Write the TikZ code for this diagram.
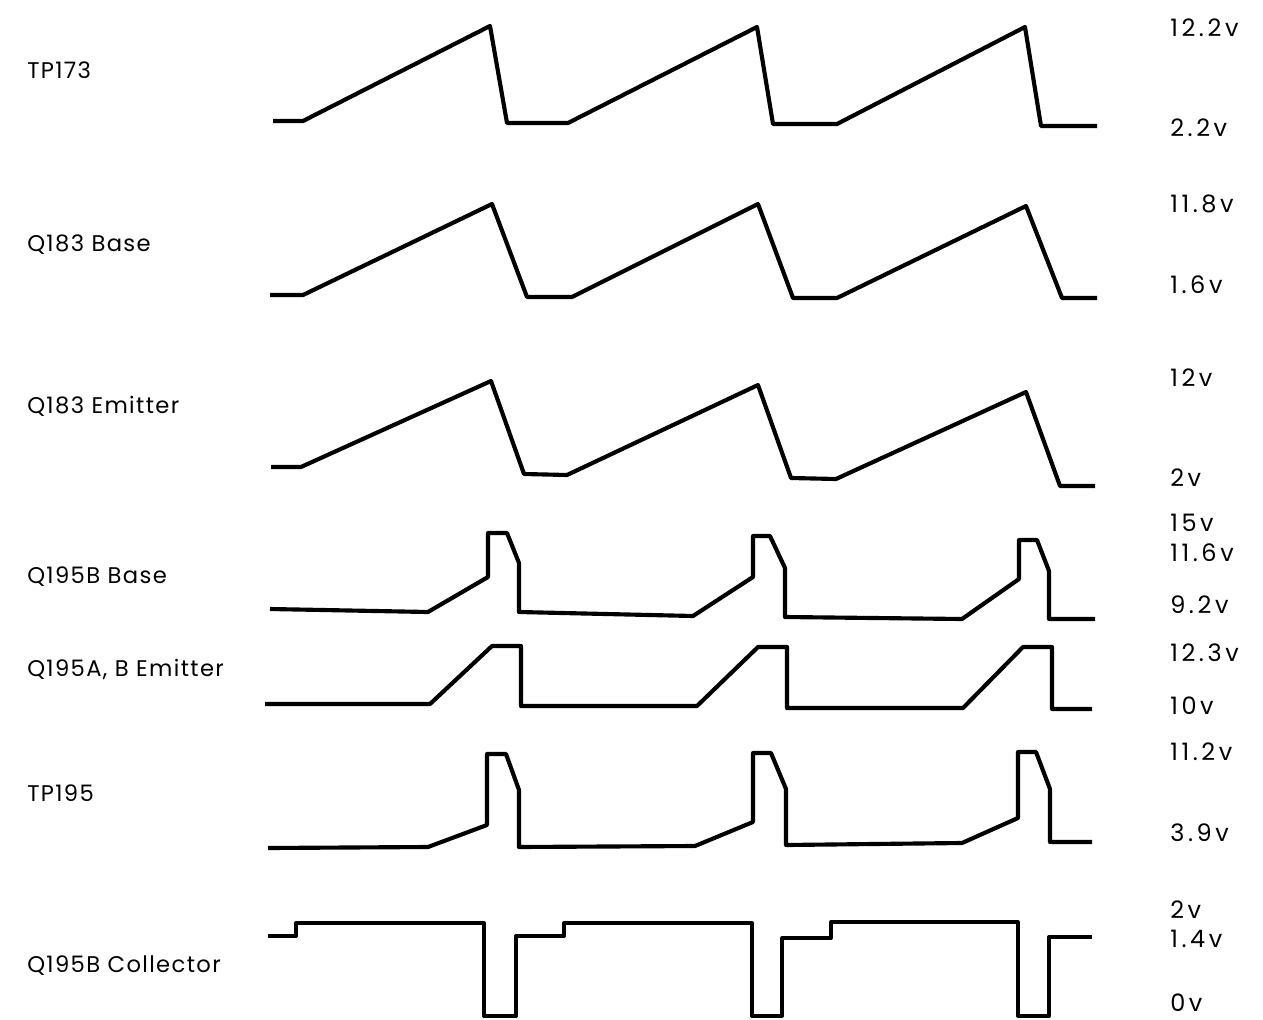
\documentclass[tikz,border=0pt]{standalone}
\usepackage{fontspec}
\setmainfont{Poppins}
\begin{document}
\begin{tikzpicture}[x=0.75pt,y=-0.75pt,
  wave/.style={line width=3.1pt,line join=round,line cap=butt},
  lbl/.style={anchor=west,inner sep=0pt,font=\fontsize{17}{20}\selectfont\addfontfeature{LetterSpace=6}},
  val/.style={anchor=west,inner sep=0pt,font=\fontsize{18}{20}\selectfont\addfontfeature{LetterSpace=15}}]
\useasboundingbox (0,0) rectangle (1263,1020);
% labels left
\node[lbl] (l1) at (27,70) {TP173};
\node[lbl] (l2) at (27,245) {Q183 Base};
\node[lbl] (l3) at (27,406) {Q183 Emitter};
\node[lbl] (l4) at (27,577) {Q195B Base};
\node[lbl] (l5) at (27,669) {Q195A, B Emitter};
\node[lbl] (l6) at (27,793) {TP195};
\node[lbl] (l7) at (27,966) {Q195B Collector};
% values right
\node[val] (v1) at (1170,28) {12.2v};
\node[val] (v2) at (1170,128) {2.2v};
\node[val] (v3) at (1170,204) {11.8v};
\node[val] (v4) at (1170,285) {1.6v};
\node[val] (v5) at (1170,378) {12v};
\node[val] (v6) at (1170,478) {2v};
\node[val] (v7) at (1170,523) {15v};
\node[val] (v8) at (1170,553) {11.6v};
\node[val] (v9) at (1170,605) {9.2v};
\node[val] (v10) at (1170,653) {12.3v};
\node[val] (v11) at (1170,706) {10v};
\node[val] (v12) at (1170,752) {11.2v};
\node[val] (v13) at (1170,833) {3.9v};
\node[val] (v14) at (1170,910) {2v};
\node[val] (v15) at (1170,939) {1.4v};
\node[val] (v16) at (1170,1003) {0v};
% TP173
\draw[wave] (273,121) -- (303,121) -- (490,26) -- (507,123) -- (568,123) -- (757,27) -- (773,124) -- (837,124) -- (1025,27) -- (1041,126) -- (1097,126);
% Q183 Base
\draw[wave] (270,295) -- (303,295) -- (492,204) -- (527,297) -- (572,297) -- (758,204) -- (793,298) -- (837,298) -- (1026,206) -- (1062,298) -- (1097,298);
% Q183 Emitter
\draw[wave] (271,467) -- (301,467) -- (491,381) -- (524,474) -- (567,475) -- (758,385) -- (791,478) -- (836,479) -- (1026,392) -- (1060,486) -- (1095,486);
% Q195B Base
\draw[wave] (270,609) -- (428,612) -- (488,577) -- (488,533) -- (507,533) -- (519,563) -- (519,612) -- (693,616) -- (753,577) -- (753,536) -- (770,536) -- (785,568) -- (785,617) -- (962,619) -- (1019,579) -- (1019,540) -- (1037,540) -- (1049,571) -- (1049,619) -- (1095,619);
% Q195A, B Emitter
\draw[wave] (265,704) -- (430,704) -- (492,646) -- (521,646) -- (521,706) -- (697,706) -- (758,647) -- (787,647) -- (787,708) -- (963,708) -- (1023,647) -- (1052,647) -- (1052,709) -- (1092,709);
% TP195
\draw[wave] (268,848) -- (428,847) -- (487,825) -- (487,754) -- (506,754) -- (519,790) -- (519,847) -- (695,846) -- (753,822) -- (753,753) -- (771,753) -- (786,789) -- (786,845) -- (962,843) -- (1018,818) -- (1018,752) -- (1036,752) -- (1050,789) -- (1050,842) -- (1092,842);
% Q195B Collector
\draw[wave] (268,936) -- (296,936) -- (296,923) -- (484,923) -- (484,1016) -- (516,1016) -- (516,936) -- (564,936) -- (564,923) -- (752,923) -- (752,1016) -- (782,1016) -- (782,938) -- (831,938) -- (831,922) -- (1018,922) -- (1018,1016) -- (1049,1016) -- (1049,937) -- (1092,937);
\end{tikzpicture}
\end{document}
